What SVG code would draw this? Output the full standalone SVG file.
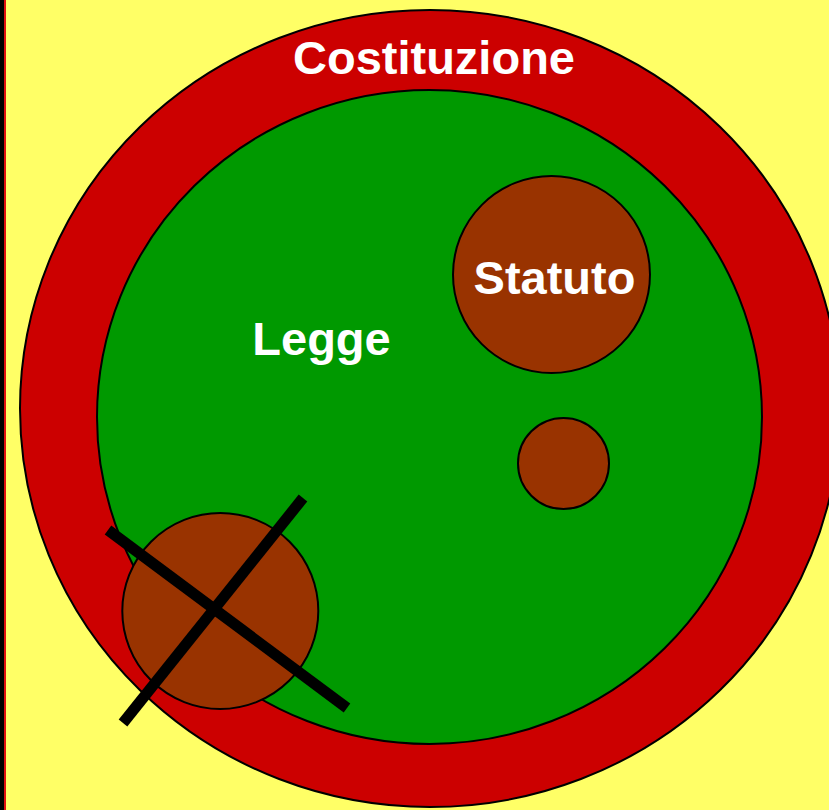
<svg xmlns="http://www.w3.org/2000/svg" width="829" height="810" viewBox="0 0 829 810">
<style>
.lbl{font-family:"Liberation Sans",Arial,sans-serif;font-weight:bold;font-size:47px;fill:#fff;text-anchor:middle}
.ring{stroke:#000;stroke-width:2}
.sub{fill:#993300;stroke:#000;stroke-width:2}
.x{stroke:#000;stroke-width:11}
</style>
<rect x="0" y="0" width="829" height="810" fill="#FFFF66"/>
<rect x="0" y="0" width="4" height="810" fill="#000"/>
<rect x="4" y="0" width="2" height="810" fill="#E01010"/>
<g id="costituzione">
<ellipse class="ring" cx="430" cy="408.5" rx="410" ry="398.5" fill="#CC0000"/>
<text class="lbl" x="434" y="74">Costituzione</text>
</g>
<g id="legge">
<ellipse class="ring" cx="429.5" cy="417" rx="332.5" ry="327" fill="#009900"/>
<text class="lbl" x="321.5" y="355">Legge</text>
</g>
<g id="statuto">
<circle class="sub" cx="551.5" cy="274.5" r="98.5"/>
<text class="lbl" x="554.5" y="294">Statuto</text>
</g>
<g id="small">
<circle class="sub" cx="563.5" cy="463.5" r="45.5"/>
</g>
<g id="crossed">
<circle class="sub" cx="220.3" cy="611" r="98"/>
</g>
<g id="connectors">
<line class="x" x1="108" y1="530" x2="347" y2="708"/>
<line class="x" x1="303" y1="498" x2="123" y2="723"/>
</g>
</svg>
